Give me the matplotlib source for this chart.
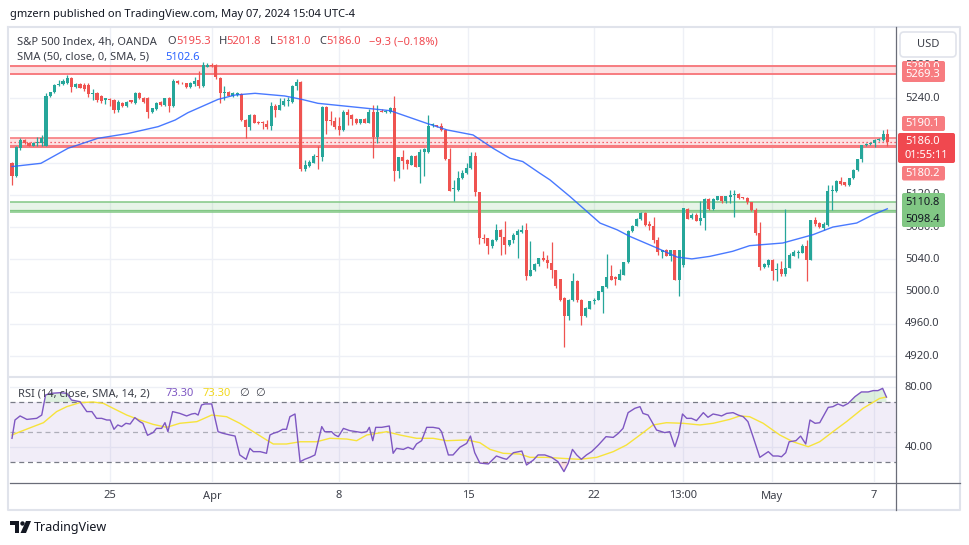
import matplotlib
matplotlib.use('Agg')
import matplotlib.pyplot as plt
import matplotlib.patches as mpatches
import matplotlib.transforms as mtrans
from matplotlib.lines import Line2D
import numpy as np

plt.rcParams['font.family'] = ['Noto Sans', 'DejaVu Sans']

# ---------------- data ----------------
opens = [
    5160, 5143, 5178, 5188, 5184, 5181, 5184, 5184, 5181, 5242,
    5247, 5256, 5257, 5258, 5265, 5254, 5257, 5256, 5256, 5245,
    5246, 5242, 5237, 5239, 5238, 5225, 5234, 5230, 5237, 5234,
    5246, 5240, 5240, 5223, 5226, 5235, 5231, 5240, 5230, 5261,
    5259, 5258,
    5254, 5257, 5262, 5255, 5279, 5281, 5281, 5265, 5246, 5248,
    5242.5, 5244, 5245, 5213, 5204.5, 5219, 5210, 5209.5, 5208, 5205,
    5230, 5225, 5231, 5236, 5235, 5255, 5260, 5152, 5156, 5160,
    5168, 5167, 5229, 5213, 5212, 5205, 5200, 5223, 5219, 5213.6,
    5209.5, 5213.6, 5209.5, 5223, 5192, 5224, 5223, 5223, 5227, 5150,
    5166.6, 5163, 5157.5, 5168, 5155, 5173.6, 5173.6, 5206, 5206.5, 5205.3,
    5200.4, 5164, 5127, 5126, 5140.6, 5147, 5153, 5168, 5123, 5066,
    5066, 5057, 5064, 5076.6, 5067.6, 5058, 5063.4, 5070.5, 5073.4, 5076.6,
    5019.7, 5027, 5034.6,
    5041.6, 5039, 5035.4, 5026.3, 5015.6, 4992, 4970, 4990, 5013.5, 4990,
    4970, 4978.5, 4988, 4990, 5000, 5005.7, 5019, 5018, 5014.75, 5021,
    5036.2, 5074.6, 5081.6, 5090, 5097.3, 5084, 5081.6, 5064, 5048.6, 5052,
    5044.5, 5051, 5014, 5033, 5102.2, 5091, 5095, 5088,
    5091, 5115, 5102, 5113.8, 5118, 5111.7, 5117, 5120, 5121, 5116,
    5116, 5110.5, 5101, 5072.5, 5030.5, 5033.5, 5039.5, 5027, 5028, 5022.2,
    5029.2, 5043.7, 5048, 5047.8, 5056, 5039.5, 5088.2, 5084.9, 5078.7, 5082.8,
    5125, 5125.3, 5137.7, 5135.3, 5132.3, 5140.6, 5151, 5164.1, 5181.9, 5183,
    5183.9, 5188, 5188, 5195.3,
]
highs = [
    5161, 5181, 5191, 5189, 5185, 5186, 5192, 5194, 5246, 5247,
    5257, 5262, 5264, 5269, 5266, 5258, 5258, 5258, 5258, 5251,
    5247, 5244, 5240, 5240, 5239, 5237, 5235, 5236, 5238, 5247,
    5247, 5241, 5241, 5227, 5235, 5236, 5240, 5241, 5264, 5262,
    5260, 5259,
    5260, 5266, 5273, 5285, 5283, 5283, 5282, 5266, 5255, 5249,
    5247, 5247, 5246, 5214, 5220, 5220, 5211, 5212, 5213, 5235,
    5233, 5240, 5240, 5241, 5256, 5264, 5261, 5163, 5163, 5170,
    5181, 5230, 5230, 5224, 5217, 5216, 5225, 5226, 5220, 5215,
    5214, 5215, 5226, 5231, 5231, 5226, 5225, 5229, 5242.5, 5167,
    5175.6, 5164, 5169, 5169, 5176.5, 5177.7, 5219, 5208.6, 5207, 5208.6,
    5201, 5177.7, 5138.5, 5149, 5151, 5159, 5173.6, 5173.6, 5124, 5071.7,
    5067, 5065, 5084, 5078, 5087, 5064, 5072.5, 5077, 5083, 5085,
    5063, 5035, 5042,
    5050.6, 5045.7, 5061, 5027, 5016, 4993, 4991, 5023, 5014, 4991,
    4980.5, 4988.5, 4992, 5001, 5007, 5047, 5033, 5019, 5028, 5037,
    5076.6, 5082, 5090.6, 5099, 5099, 5087, 5093, 5067.5, 5052, 5053,
    5051, 5052, 5052, 5103.4, 5103, 5097, 5097.3, 5111.7,
    5115.8, 5116, 5116, 5119, 5119, 5119, 5126, 5126, 5122, 5117,
    5117, 5111, 5103.5, 5085.7, 5035, 5040, 5040, 5035, 5037.5, 5102.3,
    5047.8, 5052, 5052, 5059.4, 5064.3, 5089, 5093, 5086, 5085.7, 5132.4,
    5132.4, 5138.5, 5141.8, 5136, 5141, 5151.4, 5164.9, 5182.3, 5184, 5186,
    5188.9, 5190, 5200.4, 5201.8,
]
lows = [
    5132, 5142, 5175, 5183, 5180, 5180, 5181, 5181, 5180, 5241,
    5246, 5255, 5256, 5257, 5248, 5253, 5252, 5249, 5241, 5238,
    5235, 5234, 5233, 5230, 5222, 5223, 5229, 5229, 5234, 5233,
    5239, 5234, 5215, 5222, 5225, 5230, 5230, 5223, 5229, 5257,
    5257, 5253,
    5253, 5255, 5253, 5254, 5278, 5279, 5263, 5234, 5238, 5242,
    5241, 5242, 5212, 5190, 5200, 5209, 5208, 5202, 5202, 5200,
    5217, 5225, 5230, 5230, 5234, 5250, 5149, 5149, 5155, 5159,
    5152, 5162, 5195, 5207, 5202, 5194, 5199, 5206.5, 5206.5, 5208,
    5208, 5209, 5208.6, 5165, 5184, 5222.5, 5222, 5222, 5136.5, 5140.6,
    5152.5, 5151.7, 5157, 5154, 5135, 5143.5, 5171.5, 5203.7, 5204.5, 5199.6,
    5163, 5125, 5111.7, 5125, 5140, 5146, 5152, 5118, 5059.4, 5060,
    5046, 5054, 5063, 5045.7, 5047, 5057, 5060, 5041.6, 5072, 5014,
    5019, 5026, 5032,
    5037.4, 5029, 5016.8, 5005, 4988, 4931.4, 4965.2, 4988, 4986.7, 4959,
    4969, 4978, 4985, 4989, 4973.5, 5005, 5014, 5008.6, 5014, 5020,
    5035.4, 5074, 5081, 5089, 5080.8, 5076.6, 5060, 5045.7, 5041.6, 5044,
    5037.4, 5014, 4994, 5030.4, 5089.8, 5089.8, 5087, 5082.8,
    5076.6, 5101, 5101, 5113, 5110, 5110, 5109.7, 5093, 5115, 5115,
    5109, 5100, 5070.5, 5026.3, 5029.5, 5030.5, 5014, 5012.7, 5019, 5019,
    5028.6, 5043.6, 5041.6, 5047.5, 5012.7, 5039, 5081, 5078.7, 5076.6, 5081.6,
    5101.4, 5124, 5132.3, 5131, 5131, 5139.8, 5150, 5161.2, 5181, 5181.9,
    5179.8, 5187, 5187, 5181,
]
closes = [
    5143, 5179, 5188, 5184, 5181, 5184, 5185, 5191, 5242, 5247,
    5256, 5257, 5261, 5265, 5254, 5257, 5253, 5251, 5245, 5246,
    5237, 5236, 5240, 5238, 5225, 5235, 5230, 5235, 5235, 5246,
    5240, 5235, 5223, 5227, 5234, 5231, 5240, 5230, 5261, 5258,
    5258, 5254,
    5259, 5261, 5255, 5281, 5281, 5280, 5265.5, 5246, 5248, 5242.5,
    5246, 5246, 5213, 5204.5, 5219, 5209.5, 5208.5, 5209, 5204.5, 5230,
    5225, 5231, 5236.7, 5237, 5255, 5260, 5152, 5157, 5161, 5168,
    5167, 5229, 5212, 5212, 5204.5, 5200, 5223, 5219, 5213.6, 5209.5,
    5213.6, 5209.5, 5223, 5192, 5223, 5223, 5224, 5227, 5150, 5166.6,
    5162.5, 5158, 5168.2, 5155, 5173.6, 5176.5, 5205, 5206.5, 5205.3, 5200.4,
    5164, 5125.3, 5128, 5140.6, 5147.6, 5153, 5168.2, 5123, 5066, 5065,
    5057, 5064, 5076.6, 5067.6, 5058, 5063.4, 5070.5, 5074.6, 5076.6, 5019.7,
    5027, 5034.6, 5041.6,
    5038.7, 5035.4, 5026.3, 5006.5, 4990, 4970, 4990, 5013.5, 4990, 4970,
    4979.7, 4988, 4990, 5000.3, 5006.5, 5018, 5014.75, 5015.6, 5022, 5036.2,
    5074.6, 5081.6, 5090, 5097.3, 5083, 5080.8, 5063.4, 5048.6, 5052, 5044.5,
    5051, 5014, 5051, 5103.4, 5090, 5095, 5088, 5091,
    5115, 5102, 5114.6, 5118, 5111.7, 5118, 5120, 5121, 5116, 5115.5,
    5110.5, 5100.6, 5072.5, 5030.5, 5034.6, 5039.5, 5025, 5028, 5022.2, 5029.2,
    5045.7, 5048.6, 5049, 5056, 5039.5, 5088.2, 5084, 5080, 5084, 5125.3,
    5126, 5137.7, 5133.6, 5132.3, 5140.6, 5151, 5164.1, 5181.9, 5183, 5184.8,
    5188, 5188.5, 5195.5, 5186,
]

# SMA 50 (bar index, value)
sma_x = [0, 6.8, 13.2, 20.2, 27.3, 34.4, 38.4, 41.4, 48.5, 52.5, 57.2, 64.2, 68.2, 72,
         83, 89, 97.6, 102.4, 108.5, 113.2, 117.2, 120.2, 124.2, 126.6, 131.3, 135.3,
         138.4, 142.4, 145.4, 151.8, 156.5, 160, 164.2, 169.6, 173.6, 181.4, 188.5,
         193.2, 198.8, 202.6, 206]
sma_y = [5155, 5159, 5177.7, 5190, 5196, 5204.5, 5212.7, 5221.8, 5238.3, 5243.7, 5245.8,
         5242.5, 5238.3, 5233.4, 5227.5, 5224.3, 5208.6, 5200.4, 5194.2, 5177.7, 5165.3,
         5161.2, 5146.8, 5138.5, 5117.9, 5099.3, 5084.9, 5076.6, 5068.4, 5054, 5042.8,
         5040.5, 5043.6, 5049.9, 5056.9, 5060.2, 5070.5, 5080, 5085, 5095.2, 5102.6]

# RSI 14
rsi_x = [0, 0.7, 1.9, 3.5, 5.8, 7, 7.9, 9.3, 11.3, 12.9, 14, 16, 17.6, 18.8, 19.9, 21.1,
         22.3, 23.1, 24, 24.9, 25.8, 26.8, 27.8, 28.9, 30.1, 30.8, 31.9, 33.2, 34, 35.2,
         36, 36.7, 37.8, 39.5, 41.1, 42.3, 43.1, 43.8, 44.6, 45.4, 47, 48.5, 49.7, 51.3,
         52.5, 53.6, 55.1, 56, 56.8, 58.4, 59.9, 60.7, 61.5, 62.7, 63.7, 64.6, 65.4, 66.6,
         67.8, 68.9, 70.1, 71.3, 72.9, 73.6, 75.2, 76, 76.8, 78, 79.5, 81.1, 82.3, 83.5,
         84.1, 84.9, 85.6, 87, 88.8, 89.7, 90.5, 92.1, 93.2, 94.4, 95.2, 96.4, 97.6, 99.1,
         100.5, 101.1, 102.7, 103.8, 105.4, 107, 107.9, 108.9, 110.1, 112.1, 114, 115.6,
         116.4, 118, 120, 121.1, 122.7, 123.8, 125.4, 127, 128.5, 129.9, 130.9, 131.9,
         132.9, 134, 135.2, 136.4, 138, 139.8, 141.5, 142.7, 143.8, 145, 146.6, 147.8,
         148.5, 149.7, 150.8, 151.7, 152.9, 153.6, 154.8, 156, 156.9, 157.8, 158.8, 159.9,
         161.1, 162.7, 163.8, 165, 166.2, 167, 168.2, 169.7, 170.9, 172.1, 173.2, 174.4,
         176, 178, 179.1, 180.3, 181.1, 182.1, 182.9, 184.5, 185.6, 186.8, 187.8, 189,
         190.1, 191.3, 192.1, 193.2, 194.4, 195.6, 196.8, 198.4, 199.9, 201.5, 202.7,
         203.8, 204.9, 205.8]
rsi_y = [45.8, 58, 60.7, 58.4, 59.1, 61.3, 74.7, 75.8, 76.2, 75.8,
         71.3, 70.2, 63.6, 63.6, 59.1, 59.1, 58, 58, 51.8, 54.7,
         53.6, 55.8, 55.3, 59.6, 56.9, 55.8, 47.8, 49.6, 52.4, 52.4,
         56.2, 50.2, 63.6, 62.4, 60.7, 62, 62.4, 61.3, 68, 68.7,
         68.7, 50.2, 49.1, 48, 47.3, 34.7, 31.8, 39.1, 36.9, 36.9,
         35.8, 48, 49.1, 50.2, 51.8, 51.8, 60.2, 62, 30.2, 31.8,
         33.1, 34.7, 53.6, 50.2, 50.2, 48, 46.9, 52.4, 50.9, 50.2,
         49.6, 50.2, 53.1, 44.2, 53.1, 53.1, 54, 35.8, 39.1, 38.4,
         39.8, 38.4, 42, 44.2, 53.1, 53.1, 52.4, 50.2, 34.7, 34.7,
         39.8, 42.4, 47.3, 36.2, 29.3, 28.7, 34, 32.4, 31.8, 36.2,
         37.3, 28, 31.3, 34.7, 34.7, 33.1, 30.2, 23.6, 29.1, 38.4,
         34.7, 31.8, 34.7, 36.9, 41.3, 46.9, 46.4, 49.1, 52.4, 62.9,
         65.8, 66.9, 62.4, 61.3, 55.8, 51.3, 50.2, 49.6, 50.2, 40.2,
         48, 62, 59.1, 59.1, 57.6, 62.9, 59.8, 62, 61.3, 60.7,
         62.4, 62.9, 61.3, 60.2, 56.9, 46.9, 33.1, 36.9, 34, 34,
         33.5, 36.2, 43.5, 44.2, 47.3, 42, 58, 55.8, 56.2, 62.4,
         66.4, 66.9, 68.7, 67.3, 69.1, 73.6, 76.7, 76.7, 77.6, 77.6,
         79.1, 73.3]

# RSI-based SMA 14
rsima_x = [0, 1.9, 5, 7.4, 10.5, 12.9, 16, 19.1, 21.5, 23.8, 27, 30.1, 33.2, 36.4, 39.5,
           43.5, 47, 50.5, 53.6, 56.8, 59.9, 61.5, 64.6, 67.8, 71.7, 74.8, 78.8, 81.1,
           83.5, 88.2, 91.3, 95.2, 99.1, 102.3, 107, 110.1, 112.5, 115.6, 119.5, 121.9,
           125.8, 129.7, 133.6, 137.6, 141.5, 144.6, 147.8, 150.9, 154, 157.9, 161.9, 165,
           168.9, 171.3, 173.6, 176.8, 180.7, 183.8, 187.4, 190.1, 193.2, 196.4, 200.3,
           204.2, 205.8]
rsima_y = [48, 50.2, 53.6, 56.2, 63.6, 66.9, 69.6, 70, 69.1, 65.8, 61.3, 58, 55.1, 53.1,
           55.8, 56.9, 61.3, 60.2, 55.8, 50.2, 44.7, 42, 42, 43.5, 43.5, 45.8, 45.3, 44.2,
           48, 50.2, 48, 45.8, 45.8, 44.2, 44.7, 42.9, 38.4, 35.8, 35.3, 33.1, 33.1, 32.4,
           31.8, 33.1, 36.9, 41.3, 48, 54.7, 56.2, 55.8, 54.7, 55.8, 58.4, 60.7, 60.2, 55.8,
           48, 43.5, 40.2, 43.5, 50.2, 56.9, 65.8, 72.4, 73.3]

tick_pos = [23.1, 47.1, 77.0, 107.4, 136.9, 157.9, 178.9, 202.9]
tick_lbl = ['25', 'Apr', '8', '15', '22', '13:00', 'May', '7']
price_grid = [5280, 5240, 5200, 5160, 5120, 5080, 5040, 5000, 4960, 4920]
price_lbl = [5280, 5240, 5120, 5080, 5040, 5000, 4960, 4920]
rsi_lbl = [80, 40]

UP, DN = '#26a69a', '#ef5350'
TXT = '#3b3e48'

# ---------------- layout ----------------
W, H = 970, 545
fig = plt.figure(figsize=(W / 100, H / 100), dpi=100)
fig.patch.set_facecolor('white')

def fx(p):
    return p / W

def fy(p):
    return 1 - p / H

L, R = 10, 896
T_MAIN, B_MAIN, B_RSI = 27, 377, 482
ax = fig.add_axes([fx(L), fy(B_MAIN), fx(R) - fx(L), fy(T_MAIN) - fy(B_MAIN)])
axr = fig.add_axes([fx(L), fy(B_RSI), fx(R) - fx(L), fy(B_MAIN) - fy(B_RSI)])

bar_px = 4.249
x0 = -(12 - L) / bar_px
x1 = x0 + (R - L) / bar_px
pt_px = 0.8065
for a in (ax, axr):
    a.set_xlim(x0, x1)
    a.set_axis_off()
ax.set_ylim(5240 - (B_MAIN - 98) / pt_px, 5240 + (98 - T_MAIN) / pt_px)
axr.set_ylim(80 - (B_RSI - 387) / 1.5, 80 + (387 - B_MAIN) / 1.5)

# grid
GRID = '#eef0f6'
for p in price_grid:
    ax.axhline(p, color=GRID, lw=1, zorder=0)
for r in rsi_lbl:
    axr.axhline(r, color=GRID, lw=1, zorder=0)
for t in tick_pos:
    ax.axvline(t, color=GRID, lw=1, zorder=0)
    axr.axvline(t, color=GRID, lw=1, zorder=0)

# zones
RED_Z = '#f77c80'
ax.axhspan(5269.3, 5280.0, color=RED_Z, alpha=0.22, lw=0, zorder=1)
ax.axhline(5280.0, color=RED_Z, lw=1.4, zorder=2)
ax.axhline(5269.3, color=RED_Z, lw=1.4, zorder=2)
ax.axhspan(5180.2, 5190.1, color=RED_Z, alpha=0.22, lw=0, zorder=1)
ax.axhline(5190.1, color=RED_Z, lw=1.2, zorder=2)
ax.axhline(5180.2, color=RED_Z, lw=2.2, zorder=2)
GRN_Z = '#81c784'
ax.axhspan(5098.4, 5110.8, color='#4caf50', alpha=0.13, lw=0, zorder=1)
ax.axhline(5110.8, color=GRN_Z, lw=1.1, zorder=2)
ax.axhline(5101.6, color=GRN_Z, lw=0.9, zorder=2)
ax.axhline(5098.4, color=GRN_Z, lw=1.1, zorder=2)
ax.axhline(closes[-1], color='#f23645', lw=0.9, ls=(0, (1, 2.2)), zorder=2)

# candles
o, h, l, c = map(np.array, (opens, highs, lows, closes))
idx = np.arange(len(o))
col = np.where(c >= o, UP, DN)
ax.vlines(idx, l, h, colors=col, lw=0.9, zorder=3)
ax.bar(idx, np.maximum(np.abs(c - o), 1.2), bottom=np.minimum(o, c), width=0.72,
       color=col, lw=0, zorder=4)

ax.plot(sma_x, sma_y, color='#2962ff', lw=1.0, alpha=0.85, zorder=5)

# RSI pane
axr.axhspan(30, 70, color='#7e57c2', alpha=0.1, lw=0, zorder=0)
for lev, al in ((70, 1), (50, 0.55), (30, 1)):
    axr.axhline(lev, color='#787b86', lw=0.9, ls=(0, (4, 3)), alpha=al, zorder=1)
rx, ry = np.array(rsi_x), np.array(rsi_y)
axr.fill_between(rx, ry, 70, where=ry > 70, interpolate=True, color='#4caf50',
                 alpha=0.18, lw=0, zorder=2)
axr.fill_between(rx, ry, 30, where=ry < 30, interpolate=True, color='#f23645',
                 alpha=0.15, lw=0, zorder=2)
axr.plot(rsima_x, rsima_y, color='#f7e33b', lw=1.0, zorder=3)
axr.plot(rx, ry, color='#7e57c2', lw=1.0, zorder=4)

# frame and separators
def fig_line(xs, ys, **kw):
    fig.add_artist(Line2D([fx(v) for v in xs], [fy(v) for v in ys],
                          transform=fig.transFigure, **kw))

FRAME = '#e0e3eb'
fig_line([8.5, 960, 960, 8.5, 8.5], [27, 27, 509.5, 509.5, 27], color=FRAME, lw=1.5)
fig_line([L, R], [B_MAIN, B_MAIN], color=FRAME, lw=1.5)
fig_line([R, R], [27, 509.5], color='#6a6d78', lw=0.9)
fig_line([L, 960], [482.5, 482.5], color='#6a6d78', lw=0.9)

# price axis labels
ptrans = mtrans.blended_transform_factory(fig.transFigure, ax.transData)
for p in price_lbl:
    fig.text(fx(905), p, f'{p:.1f}', transform=ptrans, color=TXT, fontsize=8,
             va='center', ha='left', zorder=3)
rtrans = mtrans.blended_transform_factory(fig.transFigure, axr.transData)
for r in rsi_lbl:
    fig.text(fx(905), r, f'{r:.2f}', transform=rtrans, color=TXT, fontsize=8,
             va='center', ha='left', zorder=3)

def box(xa, ya, xb, yb, fc, ec='none', lw=0, rs=2, z=5):
    fig.add_artist(mpatches.FancyBboxPatch(
        (xa, H - yb), xb - xa, yb - ya, boxstyle=f'round,pad=0,rounding_size={rs}',
        fc=fc, ec=ec, lw=lw, transform=mtrans.IdentityTransform(), zorder=z))

def label(x, y, s, color, size=8, ha='left', weight='normal', z=8):
    return fig.text(fx(x), fy(y), s, color=color, fontsize=size, ha=ha, va='center',
                    fontweight=weight, zorder=z)

# 5280 label sits mostly under the 5269.3 one
box(902, 61, 945, 75, RED_Z, z=5)
label(905, 68, '5280.0', 'white', z=5.5)
box(902, 67, 945, 82, RED_Z, z=6)
label(905, 74.5, '5269.3', 'white', z=6.5)
box(902, 116, 945, 131, RED_Z)
label(905, 123.5, '5190.1', 'white')
box(898, 133, 955, 163, '#f0484f')
label(905, 141.5, '5186.0', 'white')
label(905, 156, '01:55:11', 'white')
box(902, 166, 945, 180.5, RED_Z)
label(905, 173, '5180.2', 'white')
box(902, 193, 945, 227, GRN_Z)
label(905, 202.5, '5110.8', '#131722')
label(905, 219.5, '5098.4', '#131722')

box(900, 32, 956, 57, 'white', ec=FRAME, lw=1.2, rs=4)
label(928, 44.5, 'USD', TXT, ha='center')

# time axis
ttrans = mtrans.blended_transform_factory(axr.transData, fig.transFigure)
for t, s in zip(tick_pos, tick_lbl):
    fig.text(t, fy(496), s, transform=ttrans, color=TXT, fontsize=8, ha='center',
             va='center', fontweight='bold' if s in ('Apr', 'May') else 'normal')

# legends
RED_T = '#f0484f'
label(10, 15, 'gmzern published on TradingView.com, May 07, 2024 15:04 UTC-4', '#131722')
for x, s, cc in [(17.3, 'S&P 500 Index, 4h, OANDA', TXT), (167.7, 'O', TXT),
                 (176.7, '5195.3', RED_T), (219.3, 'H', TXT), (226.7, '5201.8', RED_T),
                 (270, 'L', TXT), (276.7, '5181.0', RED_T), (319.3, 'C', TXT),
                 (326.7, '5186.0', RED_T), (369.3, '\u22129.3 (\u22120.18%)', RED_T)]:
    label(x, 42, s, cc)
label(17.3, 57, 'SMA (50, close, 0, SMA, 5)', TXT)
label(165.7, 57, '5102.6', '#2962ff')
for x, s, cc in [(18.3, 'RSI (14, close, SMA, 14, 2)', TXT), (165.7, '73.30', '#7e57c2'),
                 (202.3, '73.30', '#f2d81d'), (239.3, '\u2205', TXT), (255, '\u2205', TXT)]:
    label(x, 393.5, s, cc)

# TradingView logo
logo = '#131722'
fig.add_artist(mpatches.Polygon([(10, H - 521), (19, H - 521), (19, H - 533), (15, H - 533),
                                 (15, H - 525), (10, H - 525)], closed=True, fc=logo,
                                ec='none', transform=mtrans.IdentityTransform()))
fig.add_artist(mpatches.Circle((22.5, H - 523.5), 2.2, fc=logo, ec='none',
                               transform=mtrans.IdentityTransform()))
fig.add_artist(mpatches.Polygon([(26, H - 521), (31, H - 521), (26, H - 533), (20.5, H - 533)],
                                closed=True, fc=logo, ec='none',
                                transform=mtrans.IdentityTransform()))
label(34, 527, 'TradingView', logo, size=9, weight='semibold')

fig.savefig('out.png', dpi=100)
